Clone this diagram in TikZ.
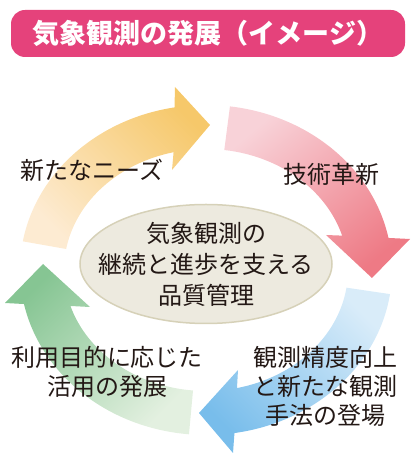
\documentclass[tikz,border=0pt]{standalone}
\usepackage{fontspec}
\setmainfont{Noto Sans CJK JP}
\usetikzlibrary{shapes.geometric}
\definecolor{titlepink}{HTML}{E5427B}
\definecolor{coreface}{HTML}{EDEADF}
\definecolor{coreedge}{HTML}{D6D1B8}
\definecolor{inkdark}{HTML}{231815}
\definecolor{yelhead}{HTML}{F6C86A}
\definecolor{yeltail}{HTML}{FDEBD2}
\definecolor{redhead}{HTML}{EE7A85}
\definecolor{redtail}{HTML}{F8D2D8}
\definecolor{bluhead}{HTML}{78BDEB}
\definecolor{blutail}{HTML}{D9ECF9}
\definecolor{grnhead}{HTML}{86C593}
\definecolor{grntail}{HTML}{E3F0E0}

\begin{document}
\begin{tikzpicture}[x=1pt, y=1pt,
      band/.style={rectangle, rounded corners=14pt, fill=titlepink,
                   minimum width=394pt, minimum height=47pt, text=white,
                   font=\fontsize{27}{32}\selectfont\bfseries},
      core/.style={ellipse, fill=coreface, draw=coreedge, line width=1.5pt,
                   minimum width=252pt, minimum height=119pt},
      tag/.style={align=center, text=inkdark, inner sep=0pt,
                  font=\fontsize{24}{29}\selectfont},
      yarrow/.style={top color=yelhead, bottom color=yeltail, shading angle=-45},
      rarrow/.style={top color=redtail, bottom color=redhead, shading angle=40},
      barrow/.style={top color=blutail, bottom color=bluhead, shading angle=-45},
      garrow/.style={top color=grnhead, bottom color=grntail, shading angle=45},
    ]
      \useasboundingbox (0,0) rectangle (418,463);

      \node[band] (title) at (208,429.5) {気象観測の発展（イメージ）};

      % the four bent arrows round the ring
      \begin{scope}[shift={(206,193)}]
        \shade[yarrow] (170:186pt and 165pt)
          arc[start angle=170, end angle=99.75, x radius=186pt, y radius=165pt]
          -- (-31,183) -- (4,145) -- (-34,100)
          -- (103.2:142pt and 121pt)
          arc[start angle=103.2, end angle=170, x radius=142pt, y radius=121pt]
          -- cycle;
        \shade[rarrow] (82.6:186pt and 165pt)
          arc[start angle=82.6, end angle=11.2, x radius=186pt, y radius=165pt]
          -- (204,31) -- (166,-8) -- (120,35)
          -- (16.5:142pt and 121pt)
          arc[start angle=16.5, end angle=82.6, x radius=142pt, y radius=121pt]
          -- cycle;
        \shade[barrow] (-8.4:186pt and 165pt)
          arc[start angle=-8.4, end angle=-81.2, x radius=186pt, y radius=165pt]
          -- (27,-183) -- (-7,-143) -- (32,-100)
          -- (-77.4:142pt and 121pt)
          arc[start angle=-77.4, end angle=-8.4, x radius=142pt, y radius=121pt]
          -- cycle;
        \shade[garrow] (264.75:186pt and 165pt)
          arc[start angle=264.75, end angle=191.9, x radius=186pt, y radius=165pt]
          -- (-201,-33) -- (-163,6) -- (-116,-37)
          -- (197.3:142pt and 121pt)
          arc[start angle=197.3, end angle=264.75, x radius=142pt, y radius=121pt]
          -- cycle;
      \end{scope}

      \node[core] (core) at (206,199) {};
      \node[tag, font=\fontsize{24}{31}\selectfont] (coretext) at (core.center)
            {気象観測の\\継続と進歩を支える\\品質管理};

      \node[tag] (needs) at (92,293) {新たなニーズ};
      \node[tag] (tech) at (331,289) {技術革新};
      \node[tag] (usage) at (107,91.5) {利用目的に応じた\\活用の発展};
      \node[tag] (method) at (325,77) {観測精度向上\\と新たな観測\\手法の登場};
    \end{tikzpicture}
\end{document}
